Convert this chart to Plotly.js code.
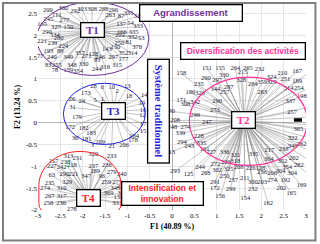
<!DOCTYPE html>
<html><head><meta charset="utf-8">
<script src="https://cdn.plot.ly/plotly-3.0.1.min.js"></script>
<style>html,body{margin:0;padding:0;background:#fff}#chart{width:320px;height:244px}</style>
</head><body><div id="chart"></div>
<script>
// ---- data ----
const groupNames = ['T1','T2','T3','T4'];
const groupX = [-1.79, 1.61, -1.32, -1.87];
const groupY = [2.11, 0.05, 0.26, -1.72];

const t1Labels = ['209','300','292','303','308','288','296','263','87','331','312','111','245','277','165','327','150','137','54','333','290','334','280','166','335','222','332','53','221','239','224','250','81','378','193','89','143','130','77','240','349','357','271','128','246','93','297','352','314','177','83','255','348','330','78','159','354','244','318','315'];
const t1X = [-2.78,-2.43,-2.17,-2.01,-1.79,-1.53,-1.31,-1.38,-1.14,-0.97,-0.75,-2.58,-2.77,-2.41,-2.91,-2.60,-2.32,-1.14,-0.93,-0.76,-2.80,-2.62,-2.54,-1.12,-0.86,-1.16,-0.88,-0.69,-2.91,-2.68,-2.43,-1.18,-0.97,-0.78,-2.77,-2.50,-1.46,-1.27,-2.95,-2.69,-2.32,-2.06,-1.91,-1.76,-1.61,-1.68,-1.31,-1.09,-0.88,-1.09,-2.77,-2.58,-2.24,-1.98,-2.62,-2.32,-2.10,-1.68,-1.50,-1.23];
const t1Y = [2.57,2.61,2.55,2.59,2.59,2.59,2.57,2.46,2.44,2.49,2.44,2.46,2.36,2.34,2.25,2.19,2.19,2.25,2.27,2.20,2.06,2.00,1.92,2.07,2.06,2.00,1.96,1.92,1.87,1.81,1.75,1.82,1.84,1.73,1.64,1.64,1.67,1.72,1.52,1.49,1.50,1.58,1.52,1.56,1.50,1.43,1.49,1.58,1.58,1.44,1.31,1.30,1.31,1.33,1.20,1.20,1.17,1.21,1.27,1.31];

const t3Labels = ['28','6','10','13','2','173','18','14','26','24','5','1','19','31','16','12','179','17','172','182','183','15','30','181','184','178','209','3','21','206'];
const t3X = [-1.76,-1.56,-1.35,-1.00,-1.23,-1.93,-0.96,-0.62,-2.24,-2.02,-1.72,-1.56,-0.67,-2.23,-0.65,-0.66,-2.13,-0.65,-2.28,-1.98,-1.81,-0.65,-2.17,-1.91,-0.85,-0.87,-1.61,-1.78,-1.35,-1.07];
const t3Y = [0.82,0.80,0.80,0.82,0.71,0.67,0.59,0.62,0.54,0.49,0.52,0.54,0.44,0.34,0.29,0.17,0.11,-0.03,-0.11,-0.13,-0.24,-0.21,-0.36,-0.38,-0.32,-0.40,-0.45,-0.51,-0.55,-0.51];

const t4Labels = ['313','231','320','233','217','238','227','242','218','237','236','289','63','290','221','347','96','279','240','329','259','275','235','274','310','345','222','342','369','267','317','138','258','236','333','310','278'];
const t4X = [-2.32,-2.12,-1.76,-1.35,-2.65,-2.39,-2.69,-2.47,-2.24,-1.76,-1.46,-1.72,-2.69,-2.41,-2.21,-1.92,-1.57,-1.35,-1.12,-2.35,-1.47,-1.23,-2.74,-2.84,-2.47,-1.27,-1.13,-1.11,-1.42,-2.74,-2.47,-1.20,-2.77,-2.48,-1.23,-1.05,-2.24];
const t4Y = [-0.77,-0.82,-0.73,-0.77,-0.88,-0.92,-1.00,-1.03,-0.98,-1.00,-0.98,-1.11,-1.21,-1.18,-1.18,-1.23,-1.24,-1.15,-1.18,-1.36,-1.36,-1.36,-1.40,-1.50,-1.50,-1.50,-1.46,-1.61,-1.61,-1.68,-1.68,-1.70,-1.85,-1.85,-1.85,-1.85,-1.99];

const t2Labels = ['151','155','264','265','232','158','260','330','215','210','167','163','324','235','297','328','251','189','344','287','284','359','319','22','254','186','326','257','283','314','198','171','342','290','337','192','308','180','249','273','257','190','208','247','248','274','149','339','228','365','194','322','200','294','243','335','346','262','188','313','161','227','336','335','217','238','196','321','364','352','202','272','220','318','244','302','325','208','226','128','236','206','304','354','282','191','293','125','268','250','304','170','291','237','211','300','203','274','192','169','172','299','232','202','165','156','154','162'];
const t2X = [0.78,1.08,1.42,1.70,1.96,0.21,0.76,1.16,1.58,2.47,2.80,3.05,2.23,0.60,1.01,1.55,2.54,2.80,0.97,1.27,1.81,2.02,2.23,3.10,2.84,0.41,0.63,1.18,2.02,2.61,2.91,0.21,0.52,1.01,2.65,3.12,0.30,-0.04,0.52,0.96,2.69,3.10,0.07,0.78,0.01,0.30,3.08,0.19,0.60,2.83,3.05,2.70,3.08,0.22,0.39,0.66,2.70,2.90,3.10,-0.04,0.73,0.88,1.18,1.83,2.18,2.50,3.12,1.42,2.17,2.47,2.73,0.97,1.21,1.42,0.63,1.01,1.27,1.49,1.76,1.98,2.02,2.24,2.43,2.58,2.84,3.14,0.07,0.37,0.75,1.18,2.69,3.06,0.96,1.37,1.63,1.81,2.02,2.24,2.54,2.90,0.96,1.31,1.81,2.45,2.67,1.08,1.64,2.15];
const t2Y = [1.25,1.25,1.24,1.25,1.22,1.12,1.02,1.07,1.14,1.12,1.17,1.14,1.04,0.87,0.97,0.97,0.99,0.95,0.76,0.81,0.87,0.93,0.92,0.81,0.78,0.69,0.66,0.70,0.69,0.79,0.61,0.51,0.47,0.49,0.49,0.36,0.41,0.26,0.17,0.28,0.24,0.13,0.05,0.00,-0.10,-0.12,-0.05,-0.25,-0.31,-0.15,-0.15,-0.35,-0.35,-0.46,-0.54,-0.48,-0.54,-0.50,-0.48,-0.69,-0.61,-0.67,-0.69,-0.73,-0.63,-0.61,-0.66,-0.75,-0.84,-0.89,-0.82,-0.96,-0.90,-0.89,-1.02,-1.09,-1.07,-1.02,-1.05,-1.04,-1.14,-1.17,-1.11,-1.02,-0.98,-0.90,-1.11,-1.19,-1.17,-1.22,-1.17,-1.19,-1.36,-1.32,-1.27,-1.36,-1.37,-1.32,-1.32,-1.43,-1.51,-1.53,-1.53,-1.51,-1.62,-1.68,-1.74,-1.85];

const xTickVals = [-3,-2.5,-2,-1.5,-1,-0.5,0,0.5,1,1.5,2,2.5,3];
const xTickText = ['-3','-2.5','-2','-1.5','-1','-0.5','0','0.5','1','1.5','2','2.5','3'];
const yTickVals = [-2,-1.5,-1,-0.5,0,0.5,1,1.5,2,2.5];
const yTickText = ['-2','-1.5','-1','-0.5','0','0.5','1','1.5','2','2.5'];

const groupColors = ['#7030A0','#FF3399','#1F1FE0','#FF2020'];

// ---- build ----
const groups = [
  {labels:t1Labels, x:t1X, y:t1Y, g:0},
  {labels:t2Labels, x:t2X, y:t2Y, g:1},
  {labels:t3Labels, x:t3X, y:t3Y, g:2},
  {labels:t4Labels, x:t4X, y:t4Y, g:3}
];
const traces = [];
groups.forEach(function(G){
  const X=[],Y=[];
  G.x.forEach(function(v,i){X.push(groupX[G.g], v, null); Y.push(groupY[G.g], G.y[i], null);});
  traces.push({type:'scatter', mode:'lines', x:X, y:Y, hoverinfo:'skip', showlegend:false,
    line:{color:'rgba(140,140,140,0.85)', width:0.6}});
});
groups.forEach(function(G){
  traces.push({type:'scatter', mode:'text', x:G.x, y:G.y, text:G.labels, hoverinfo:'skip', showlegend:false,
    cliponaxis:false, textposition:'middle center',
    textfont:{family:'Liberation Serif, Times New Roman, serif', size:6.5, color:'#1a1a33'}});
});

const annotations = [];
groupNames.forEach(function(n,i){
  annotations.push({x:groupX[i], y:groupY[i], xref:'x', yref:'y', text:'<b>'+n+'</b>', showarrow:false,
    font:{family:'Liberation Serif, serif', size:11, color:groupColors[i]},
    bgcolor:'#ffffff', bordercolor:'#000000', borderwidth:1.3, borderpad:1,
    width:20, height: i===0 ? 11 : 13});
});
annotations.push({x:0.43, y:2.51, xref:'x', yref:'y', text:'<b>Agrandissement</b>', showarrow:false,
  font:{family:'Liberation Sans, Arial, sans-serif', size:9.5, color:'#7030A0'},
  bgcolor:'#ffffff', bordercolor:'#000000', borderwidth:1.3, borderpad:1, width:99, height:13});
annotations.push({x:1.60, y:1.64, xref:'x', yref:'y', text:'<b>Diversification des activités</b>', showarrow:false,
  font:{family:'Liberation Sans, Arial, sans-serif', size:8.5, color:'#FF3399'},
  bgcolor:'#ffffff', bordercolor:'#000000', borderwidth:1.3, borderpad:1, width:121, height:13});
annotations.push({x:-0.31, y:0.27, xref:'x', yref:'y', text:'<b>Système traditionnel</b>', showarrow:false, textangle:90,
  font:{family:'Liberation Serif, serif', size:10.5, color:'#1F1FE0'},
  bgcolor:'#ffffff', bordercolor:'#000000', borderwidth:1.3, borderpad:1, width:100, height:18});
annotations.push({x:-0.22, y:-1.62, xref:'x', yref:'y', text:'<b>Intensification et<br>innovation</b>', showarrow:false,
  font:{family:'Liberation Sans, Arial, sans-serif', size:8.5, color:'#FF2020'},
  bgcolor:'#ffffff', bordercolor:'#000000', borderwidth:1.3, borderpad:1, width:78, height:20});

// T4 arch outline
const aL=-2.98, aR=-1.14, aC=-2.06, aT=-0.66, aM=-1.435, aS=-1.85, aB=-2.05, k=0.5523;
const archPath = 'M '+aL+','+aM+' C '+aL+','+(aM+k*(aT-aM))+' '+(aC-k*(aC-aL))+','+aT+' '+aC+','+aT+
  ' C '+(aC+k*(aR-aC))+','+aT+' '+aR+','+(aM+k*(aT-aM))+' '+aR+','+aM+
  ' L '+aR+','+aS+' Q '+aR+','+aB+' '+(aR-0.22)+','+aB+' L '+(aL+0.22)+','+aB+' Q '+aL+','+aB+' '+aL+','+aS+' Z';

const shapes = [
  {type:'circle', xref:'x', yref:'y', x0:-3.03, x1:-0.52, y0:1.08, y1:2.76, line:{color:'#7030A0', width:1}, layer:'above'},
  {type:'circle', xref:'x', yref:'y', x0:-2.43, x1:-0.60, y0:-0.50, y1:0.90, line:{color:'#1F1FE0', width:1}, layer:'above'},
  {type:'circle', xref:'x', yref:'y', x0:0.39, x1:3.03, y0:-0.98, y1:1.04, line:{color:'#FF3399', width:1.2}, layer:'above'},
  {type:'path', xref:'x', yref:'y', path:archPath, line:{color:'#FF2020', width:1}, layer:'above'},
  {type:'rect', xref:'x', yref:'y', x0:2.73, x1:2.91, y0:0.02, y1:0.10, fillcolor:'#000000', line:{width:0}, layer:'above'},
  {type:'rect', xref:'paper', yref:'paper', x0:-0.1306, x1:1.0354, y0:-0.148, y1:1.005, line:{color:'#7f7f7f', width:2}, layer:'above'}
];

const axFont = {family:'Liberation Serif, Times New Roman, serif', size:7, color:'#000'};
const layout = {
  width:320, height:244,
  margin:{l:38, r:14, t:4, b:34},
  paper_bgcolor:'#ffffff', plot_bgcolor:'#ffffff',
  showlegend:false,
  xaxis:{range:[-3,3], tickvals:xTickVals, ticktext:xTickText, showgrid:true, gridcolor:'#e6e6e6', gridwidth:1,
    zeroline:true, zerolinecolor:'#b5b5b5', zerolinewidth:1, ticks:'', showline:false, tickfont:axFont, fixedrange:true,
    title:{text:'<b>F1 (40.89 %)</b>', font:{family:'Liberation Serif, serif', size:8, color:'#000'}, standoff:4}},
  yaxis:{range:[-2,2.714], tickvals:yTickVals, ticktext:yTickText, showgrid:true, gridcolor:'#e6e6e6', gridwidth:1,
    zeroline:true, zerolinecolor:'#b5b5b5', zerolinewidth:1, ticks:'', showline:false, tickfont:axFont, fixedrange:true,
    title:{text:'<b>F2 (13.24 %)</b>', font:{family:'Liberation Serif, serif', size:8, color:'#000'}, standoff:4}},
  annotations:annotations,
  shapes:shapes
};
Plotly.newPlot('chart', traces, layout, {displayModeBar:false, staticPlot:true});
</script>
</body></html>
